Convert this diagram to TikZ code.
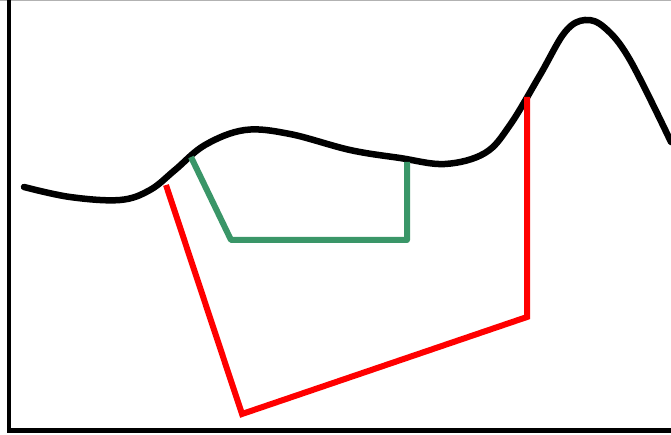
\documentclass[tikz,border=0pt]{standalone}
\definecolor{pathgreen}{RGB}{58,150,104}
\begin{document}
\begin{tikzpicture}[x=1pt,y=-1pt]
    \useasboundingbox (0,0) rectangle (671,435);
    % Frame
    \draw[black!30, line width=1.5pt] (0,0.75) -- (671,0.75);
    \draw[line width=4.5pt] (9,0) -- (9,430.5) -- (671,430.5);

    % Landscape curve
    \draw[line width=6.5pt, line cap=round] plot[smooth, tension=0.6] coordinates {
        (24,187) (70,197) (120,200) (150,190) (175,170) (205,145) (245,130)
        (290,134) (350,150) (400,158) (445,164) (485,153) (510,125)
        (540,75) (565,32) (585,20) (605,28) (630,60) (671,142)};

    % Red path
    \coordinate (r1) at (166,185);
    \coordinate (r2) at (242,414);
    \coordinate (r3) at (527,317);
    \coordinate (r4) at (527,97);
    \draw[red, line width=6pt] (r1) -- (r2) -- (r3) -- (r4);

    % Green path
    \coordinate (g1) at (191,157);
    \coordinate (g2) at (231,240);
    \coordinate (g3) at (407,240);
    \coordinate (g4) at (407,162);
    \draw[pathgreen, line width=6pt, line join=round] (g1) -- (g2) -- (g3) -- (g4);
\end{tikzpicture}
\end{document}
